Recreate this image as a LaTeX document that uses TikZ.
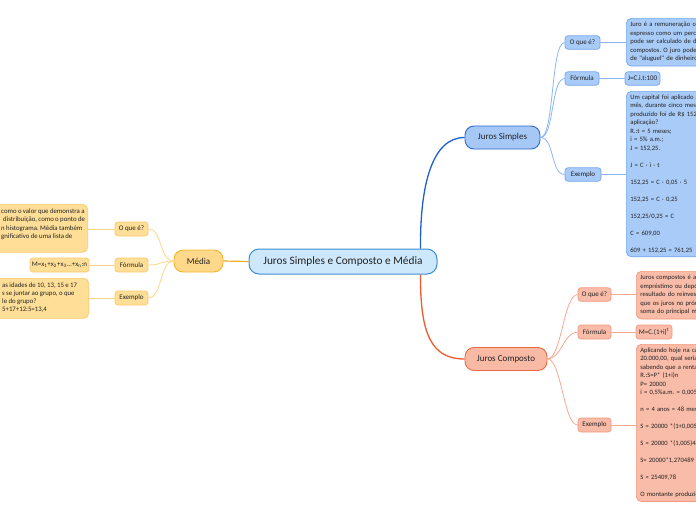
\documentclass[tikz,border=0pt]{standalone}
\usepackage{fontspec}
\setmainfont{Carlito}
\newfontfamily\leaffont{Carlito}[WordSpace=0.9]
\usetikzlibrary{calc}
\definecolor{txt}{HTML}{222222}
\definecolor{rootF}{HTML}{CDE7FB}
\definecolor{rootB}{HTML}{3A8ED6}
\definecolor{jsF}{HTML}{A5C8F7}
\definecolor{jsB}{HTML}{2D6AD2}
\definecolor{jsC}{HTML}{1F5FCF}
\definecolor{jssF}{HTML}{A9CBF8}
\definecolor{jssB}{HTML}{74A7EE}
\definecolor{jssC}{HTML}{8BB6F2}
\definecolor{jcF}{HTML}{F8B9A5}
\definecolor{jcB}{HTML}{EC6A43}
\definecolor{jcC}{HTML}{EC5B2E}
\definecolor{jcsF}{HTML}{F9BCA8}
\definecolor{jcsB}{HTML}{F4977B}
\definecolor{jcsC}{HTML}{F6A88E}
\definecolor{mF}{HTML}{FFD98B}
\definecolor{mB}{HTML}{F6B52E}
\definecolor{mC}{HTML}{F2AE22}
\definecolor{msF}{HTML}{FFDF97}
\definecolor{msB}{HTML}{FCC96A}
\definecolor{msC}{HTML}{FDD58A}
\begin{document}
\frenchspacing
\begin{tikzpicture}[x=1pt,y=-1pt,
  every node/.style={text=txt},
  rootbox/.style={draw=rootB, fill=rootF, line width=1pt, rounded corners=10pt, minimum width=188pt, minimum height=25pt, inner sep=0pt, font=\fontsize{11.3}{13}\selectfont},
  mainbox/.style={line width=0.9pt, rounded corners=9pt, minimum height=23pt, inner sep=0pt, font=\fontsize{9}{11}\selectfont},
  subbox/.style={line width=0.7pt, rounded corners=3pt, minimum height=13.5pt, inner sep=0pt, font=\fontsize{7}{8.5}\selectfont},
  leafbox/.style={line width=0.7pt, rounded corners=5pt, font=\leaffont\fontsize{6.6}{8.5}\selectfont\frenchspacing, align=left, text width=300pt, inner xsep=4pt, inner ysep=4pt, anchor=north west},
  blankbox/.style={line width=0.7pt, rounded corners=5pt, inner sep=0pt},
  freetext/.style={font=\leaffont\fontsize{6.8}{8.5}\selectfont\frenchspacing, align=left, inner sep=0pt, anchor=north west},
  jsS/.style={draw=jssB, fill=jssF},
  jcS/.style={draw=jcsB, fill=jcsF},
  mS/.style={draw=msB, fill=msF}]
\useasboundingbox (0,0) rectangle (696,520);
\clip (0,0) rectangle (696,520);

% central and main branches
\node[rootbox] (c) at (343,261.5) {Juros Simples e Composto e Média};
\node[mainbox, draw=jsB, fill=jsF, minimum width=75pt] (js) at (502.5,137.5) {Juros Simples};
\node[mainbox, draw=jcB, fill=jcF, minimum width=82pt] (jc) at (506,359) {Juros Composto};
\node[mainbox, draw=mB, fill=mF, minimum width=49pt, minimum height=22pt] (m) at (198.5,261) {Média};

% Juros Simples children
\node[subbox, jsS, minimum width=35pt] (q1) at (582.5,42.5) {O que é?};
\node[subbox, jsS, minimum width=34pt] (f1) at (582,78.5) {Fórmula};
\node[subbox, jsS, minimum width=36pt] (e1) at (583,174.5) {Exemplo};
\node[leafbox, jsS] (l1) at (626,18) {Juro é a remuneração cobrada pelo empréstimo\\expresso como um percentual sobre o valor\\pode ser calculado de dois modos: juros simples\\compostos. O juro pode ser compreendido como\\de "aluguel" de dinheiro.};
\node[subbox, jsS, minimum width=35pt] (lf1) at (642.5,78.5) {J=C.i.t:100};
\node[leafbox, jsS, inner ysep=3.5pt] (le1) at (626,91) {Um capital foi aplicado a juros simples com taxa\\mês, durante cinco meses. Se ao final desse\\produzido foi de R\$ 152,25, qual foi o capital\\aplicação?\\R.:t = 5 meses;\\i = 5\% a.m.;\\J = 152,25.\\[8.5pt]J = C · i · t\\[8.5pt]152,25 = C · 0,05 · 5\\[8.5pt]152,25 = C · 0,25\\[8.5pt]152,25/0,25 = C\\[8.5pt]C = 609,00\\[8.5pt]609 + 152,25 = 761,25};

% Juros Composto children
\node[subbox, jcS, minimum width=33pt] (q2) at (594.5,294.5) {O que é?};
\node[subbox, jcS, minimum width=33pt, minimum height=14pt] (f2) at (594.5,332) {Fórmula};
\node[subbox, jcS, minimum width=33pt, minimum height=14pt] (e2) at (594.5,425) {Exemplo};
\node[leafbox, jcS] (l2) at (636,271) {Juros compostos é a modalidade de juros mais\\empréstimo ou depósito. Os juros compostos\\resultado do reinvestimento dos juros, de\\que os juros no próximo período são\\soma do principal mais os juros anteriores};
\node[subbox, jcS, minimum width=36pt, minimum height=14pt] (lf2) at (654,332) {M=C.(1+i)\textsuperscript{t}};
\node[leafbox, jcS, inner ysep=3.5pt] (le2) at (636,344) {Aplicando hoje na caderneta de poupança a quantia\\20.000,00, qual seria o montante gerado ao final\\sabendo que a rentabilidade mensal é de 0,5\%?\\R.:S=P* (1+i)n\\P= 20000\\i = 0,5\%a.m. = 0,005\\[8.5pt]n = 4 anos = 48 meses\\[8.5pt]S = 20000 *(1+0,005)48\\[8.5pt]S = 20000 *(1,005)48\\[8.5pt]S= 20000*1,270489\\[8.5pt]S = 25409,78\\[8.5pt]O montante produzido será de R\$ 25.409,78};

% Media children
\node[subbox, mS, minimum width=33pt, minimum height=14pt] (q3) at (131.5,229) {O que é?};
\node[subbox, mS, minimum width=33pt, minimum height=14pt] (f3) at (131.5,265) {Fórmula};
\node[subbox, mS, minimum width=33pt, minimum height=14pt] (e3) at (131.5,298) {Exemplo};
\node[blankbox, mS, anchor=north east, minimum width=110pt, minimum height=48pt] (l3) at (88,204) {};
\node[freetext, text depth=0pt] (t3) at (1,208.5) {como o valor que demonstra a\\\hspace{2pt}distribuição, como o ponto de\\n histograma. Média também\\gnificativo de uma lista de};
\node[subbox, mS, minimum width=59pt, minimum height=14pt] (lf3) at (59.5,265) {M=x\textsubscript{1}+x\textsubscript{2}+x\textsubscript{3}...+x\textsubscript{n}:n};
\node[blankbox, mS, anchor=north east, minimum width=110pt, minimum height=40pt] (le3) at (89,278) {};
\node[freetext, font=\leaffont\fontsize{6.8}{8}\selectfont\frenchspacing] (te3) at (2,282.5) {as idades de 10, 13, 15 e 17\\s se juntar ao grupo, o que\\le do grupo?\\5+17+12:5=13,4};

% main connectors
\draw[jsC, line width=1.3pt] ([xshift=-17pt]c.north east) .. controls (420,185) and (432,137.5) .. (js.west);
\draw[jcC, line width=1.3pt] ([xshift=-17pt]c.south east) .. controls (420,335) and (432,359) .. (jc.west);
\draw[mC, line width=1.2pt] (c.west) -- (m.east);

% JS sub connectors
\foreach \n in {q1,f1,e1}{
  \draw[jssC, line width=0.8pt] (js.east) .. controls +(14,0) and +(-14,0) .. (\n.west);
}
\draw[jssC, line width=0.8pt] (q1.east) -- (q1.east -| l1.west);
\draw[jssC, line width=0.8pt] (f1.east) -- (lf1.west);
\draw[jssC, line width=0.8pt] (e1.east) -- (e1.east -| le1.west);

% JC sub connectors
\foreach \n in {q2,f2,e2}{
  \draw[jcsC, line width=0.8pt] (jc.east) .. controls +(14,0) and +(-14,0) .. (\n.west);
}
\draw[jcsC, line width=0.8pt] (q2.east) -- (q2.east -| l2.west);
\draw[jcsC, line width=0.8pt] (f2.east) -- (lf2.west);
\draw[jcsC, line width=0.8pt] (e2.east) -- (e2.east -| le2.west);

% Media sub connectors
\foreach \n in {q3,f3,e3}{
  \draw[msC, line width=0.8pt] (m.west) .. controls +(-14,0) and +(14,0) .. (\n.east);
}
\draw[msC, line width=0.8pt] (q3.west) -- (q3.west -| l3.east);
\draw[msC, line width=0.8pt] (f3.west) -- (lf3.east);
\draw[msC, line width=0.8pt] (e3.west) -- (e3.west -| le3.east);
\end{tikzpicture}
\end{document}
